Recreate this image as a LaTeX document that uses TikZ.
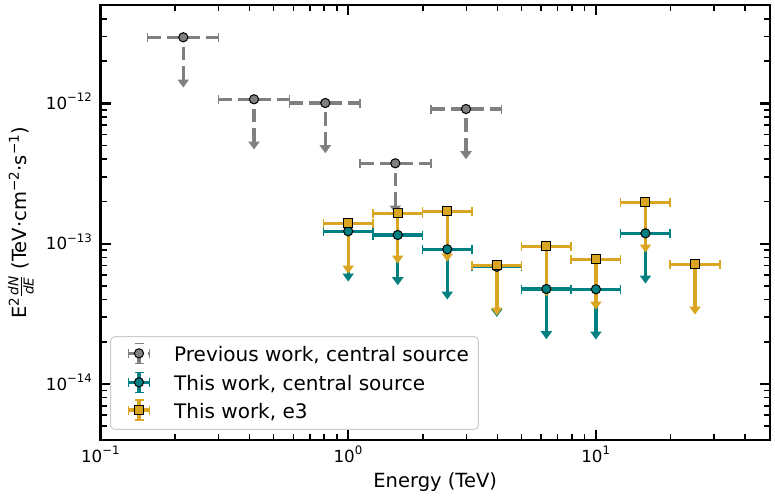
\documentclass[tikz,border=0pt]{standalone}
\usepackage{fontspec}
\usepackage{amsmath}
\setmainfont{DejaVu Sans}
\definecolor{cteal}{HTML}{008080}
\definecolor{cgold}{HTML}{DAA520}
\definecolor{cgray}{HTML}{808080}
\tikzset{
  bar/.style={line width=3.4pt},
  capline/.style={line width=1.6pt},
  gdash/.style={dash pattern=on 13.5pt off 6pt},
  majortick/.style={line width=2.2pt},
  minortick/.style={line width=1.5pt},
  ticklab/.style={font=\fontsize{16.7}{20}\selectfont, inner sep=0pt},
  axlab/.style={font=\fontsize{19.5}{24}\selectfont, inner sep=0pt},
  legtext/.style={font=\fontsize{20}{24}\selectfont, inner sep=0pt, anchor=base west},
  mkedge/.style={draw=black, line width=1pt},
}
\begin{document}
\begin{tikzpicture}[x=1pt,y=-1pt]
\useasboundingbox[fill=white] (0,0) rectangle (775,496);

% ---------- ticks ----------
\foreach \d/\kmax in {-1/9, 0/9, 1/4} {
  \foreach \k in {2,...,\kmax} {
    \pgfmathsetmacro\xx{100.5+247.7*(\d+1+ln(\k)/ln(10))}
    \draw[minortick] (\xx,440) -- ++(0,-6);
    \draw[minortick] (\xx,5) -- ++(0,6);
  }
}
\foreach \xx in {348.2, 595.9} {
  \draw[majortick] (\xx,440) -- ++(0,-10);
  \draw[majortick] (\xx,5) -- ++(0,10);
}
\foreach \d/\ka/\kb in {-15/5/9, -14/2/9, -13/2/9, -12/2/4} {
  \foreach \k in {\ka,...,\kb} {
    \pgfmathsetmacro\yy{384-140.3*(\d+14+ln(\k)/ln(10))}
    \draw[minortick] (100.5,\yy) -- ++(6,0);
    \draw[minortick] (770,\yy) -- ++(-6,0);
  }
}
\foreach \yy in {384, 243.7, 103.4} {
  \draw[majortick] (100.5,\yy) -- ++(10,0);
  \draw[majortick] (770,\yy) -- ++(-10,0);
}

% ---------- error bars: previous work (gray, dashed) ----------
\foreach \xc/\xa/\xb/\y in {183.3/147.3/218.5/37.3, 254/218.5/289.3/99.3, 325.3/289.3/360/103, 395.3/360/431/163.3, 466/431/501.5/109} {
  \pgfmathsetmacro\yb{\y+42.2}
  \draw[bar,gdash,cgray] (\xa,\y) -- (\xb,\y);
  \draw[bar,gdash,cgray] (\xc,\yb) -- (\xc,\y);
  \draw[capline,cgray] (\xa,\y-4.5) -- (\xa,\y+4.5);
  \draw[capline,cgray] (\xb,\y-4.5) -- (\xb,\y+4.5);
  \fill[cgray] (\xc-5.8,\yb) -- (\xc+5.8,\yb) -- (\xc,\yb+8) -- cycle;
}

% ---------- error bars: this work, central source (teal) ----------
\foreach \l/\y in {0/231.3, 0.2/235, 0.4/249.3, 0.6/266.7, 0.8/289, 1.0/289.3, 1.2/233.3} {
  \pgfmathsetmacro\xc{348.2+247.7*\l}
  \pgfmathsetmacro\xa{\xc-24.77}
  \pgfmathsetmacro\xb{\xc+24.77}
  \pgfmathsetmacro\yb{\y+42.2}
  \draw[bar,cteal] (\xa,\y) -- (\xb,\y);
  \draw[bar,cteal] (\xc,\yb) -- (\xc,\y);
  \draw[capline,cteal] (\xa,\y-4.5) -- (\xa,\y+4.5);
  \draw[capline,cteal] (\xb,\y-4.5) -- (\xb,\y+4.5);
  \fill[cteal] (\xc-5.8,\yb) -- (\xc+5.8,\yb) -- (\xc,\yb+8) -- cycle;
}

% ---------- error bars: this work, e3 (gold) ----------
\foreach \l/\y in {0/223.3, 0.2/213.3, 0.4/211.3, 0.6/265.3, 0.8/246.3, 1.0/259.3, 1.2/202.3, 1.4/264.3} {
  \pgfmathsetmacro\xc{348.2+247.7*\l}
  \pgfmathsetmacro\xa{\xc-24.77}
  \pgfmathsetmacro\xb{\xc+24.77}
  \pgfmathsetmacro\yb{\y+42.2}
  \draw[bar,cgold] (\xa,\y) -- (\xb,\y);
  \draw[bar,cgold] (\xc,\yb) -- (\xc,\y);
  \draw[capline,cgold] (\xa,\y-4.5) -- (\xa,\y+4.5);
  \draw[capline,cgold] (\xb,\y-4.5) -- (\xb,\y+4.5);
  \fill[cgold] (\xc-5.8,\yb) -- (\xc+5.8,\yb) -- (\xc,\yb+8) -- cycle;
}

% ---------- markers ----------
\foreach \xc/\y in {183.3/37.3, 254/99.3, 325.3/103, 395.3/163.3, 466/109}
  \filldraw[fill=cgray,mkedge] (\xc,\y) circle (4.6pt);
\foreach \l/\y in {0/231.3, 0.2/235, 0.4/249.3, 0.6/266.7, 0.8/289, 1.0/289.3, 1.2/233.3} {
  \pgfmathsetmacro\xc{348.2+247.7*\l}
  \filldraw[fill=cteal,mkedge] (\xc,\y) circle (4.6pt);
}
\foreach \l/\y in {0/223.3, 0.2/213.3, 0.4/211.3, 0.6/265.3, 0.8/246.3, 1.0/259.3, 1.2/202.3, 1.4/264.3} {
  \pgfmathsetmacro\xc{348.2+247.7*\l}
  \filldraw[fill=cgold,mkedge] (\xc-4.5,\y-4.5) rectangle (\xc+4.5,\y+4.5);
}

% ---------- legend ----------
\draw[draw=black!20, line width=1pt, fill=white, rounded corners=4pt] (110.7,336.7) rectangle (478.3,429.3);
% gray handle
\draw[bar,gdash,cgray] (128.5,353.3) -- (149.5,353.3);
\draw[bar,gdash,cgray] (139,363.3) -- (139,343.3);
\draw[capline,cgray] (128.5,348.8) -- (128.5,357.8);
\draw[capline,cgray] (149.5,348.8) -- (149.5,357.8);
\draw[capline,cgray] (134.5,343.3) -- (143.5,343.3);
\draw[capline,cgray] (134.5,363.3) -- (143.5,363.3);
\filldraw[fill=cgray,mkedge] (139,353.3) circle (4.6pt);
% teal handle
\draw[bar,cteal] (128.5,382.3) -- (149.5,382.3);
\draw[bar,cteal] (139,392.3) -- (139,372.3);
\draw[capline,cteal] (128.5,377.8) -- (128.5,386.8);
\draw[capline,cteal] (149.5,377.8) -- (149.5,386.8);
\draw[capline,cteal] (134.5,372.3) -- (143.5,372.3);
\draw[capline,cteal] (134.5,392.3) -- (143.5,392.3);
\filldraw[fill=cteal,mkedge] (139,382.3) circle (4.6pt);
% gold handle
\draw[bar,cgold] (128.5,410) -- (149.5,410);
\draw[bar,cgold] (139,420) -- (139,400);
\draw[capline,cgold] (128.5,405.5) -- (128.5,414.5);
\draw[capline,cgold] (149.5,405.5) -- (149.5,414.5);
\draw[capline,cgold] (134.5,400) -- (143.5,400);
\draw[capline,cgold] (134.5,420) -- (143.5,420);
\filldraw[fill=cgold,mkedge] (134.5,405.5) rectangle (143.5,414.5);
\node[legtext] (l1) at (174,361) {Previous work, central source};
\node[legtext] (l2) at (174,390) {This work, central source};
\node[legtext] (l3) at (174,418.5) {This work, e3};

% ---------- frame ----------
\draw[line width=2.8pt] (100.5,5) rectangle (770,440);

% ---------- tick labels ----------
\node[ticklab,anchor=base] (xt1) at (100.5,462) {$\text{10}^{\text{−1}}$};
\node[ticklab,anchor=base] (xt2) at (348.2,462) {$\text{10}^{\text{0}}$};
\node[ticklab,anchor=base] (xt3) at (595.9,462) {$\text{10}^{\text{1}}$};
\node[ticklab,anchor=base east] (yt1) at (92.5,109.5) {$\text{10}^{\text{−12}}$};
\node[ticklab,anchor=base east] (yt2) at (92.5,249.8) {$\text{10}^{\text{−13}}$};
\node[ticklab,anchor=base east] (yt3) at (92.5,390.1) {$\text{10}^{\text{−14}}$};

% ---------- axis labels ----------
\node[axlab,anchor=base] (xl) at (435.2,487) {Energy (TeV)};
\node[axlab,anchor=base,rotate=90] (yl) at (26.5,222.5) {E$^{\text{2}}\frac{\text{\itshape dN}}{\text{\itshape dE}}$ (TeV·cm$^{\text{−2}}$·s$^{\text{−1}}$)};
\end{tikzpicture}
\end{document}
